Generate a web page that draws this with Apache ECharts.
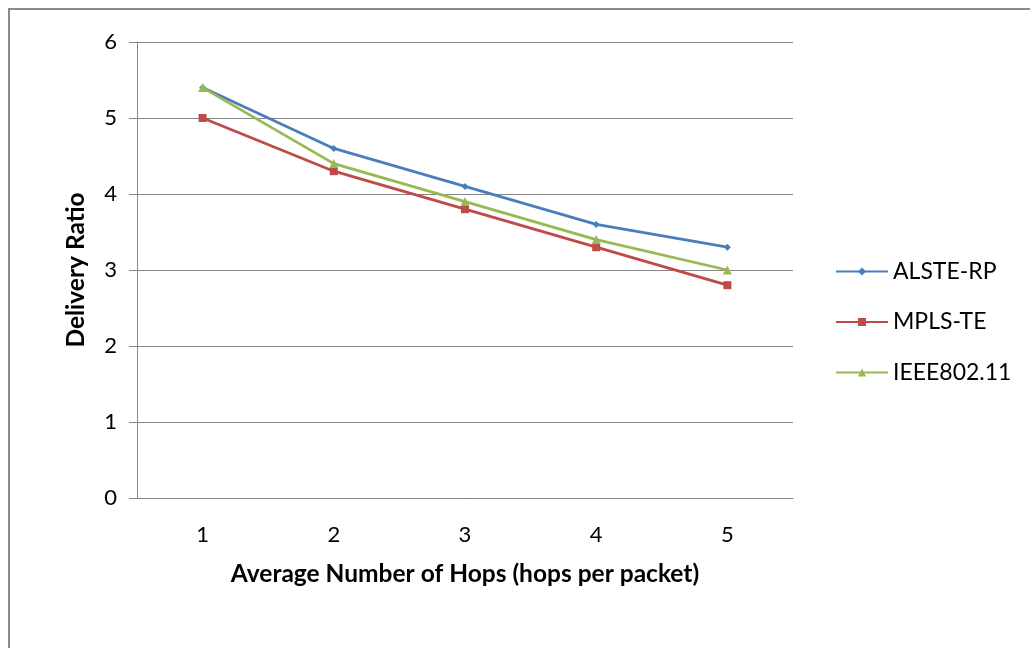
<!DOCTYPE html>
<html>
<head>
<meta charset="utf-8">
<script src="https://cdn.jsdelivr.net/npm/echarts@6/dist/echarts.min.js"></script>
<style>
html,body{margin:0;padding:0;background:#fff;}
#chart{width:1030px;height:648px;}
</style>
</head>
<body>
<div id="chart"></div>
<script>
const categories = ['1', '2', '3', '4', '5'];
const alsteRP = [5.4, 4.6, 4.1, 3.6, 3.3];
const mplsTE = [5.0, 4.3, 3.8, 3.3, 2.8];
const ieee80211 = [5.4, 4.4, 3.9, 3.4, 3.0];
const seriesNames = ['ALSTE-RP', 'MPLS-TE', 'IEEE802.11'];
const xAxisTitle = 'Average Number of Hops (hops per packet)';
const yAxisTitle = 'Delivery Ratio';

const FONT = 'Lato';
const chart = echarts.init(document.getElementById('chart'));
chart.setOption({
  animation: false,
  backgroundColor: '#fff',
  textStyle: { fontFamily: FONT },
  graphic: [
    { type: 'polyline', shape: { points: [[9, 648], [9, 9], [1030, 9]] },
      style: { stroke: '#8a8a8a', lineWidth: 2, fill: null } }
  ],
  grid: { left: 137, top: 42, width: 656, height: 456 },
  legend: {
    orient: 'vertical',
    left: 835,
    top: 260,
    padding: 0,
    itemWidth: 52,
    itemHeight: 10,
    itemGap: 27.5,
    textStyle: { fontSize: 23, color: '#000', fontFamily: FONT, padding: [0, 0, 0, 0] },
    data: seriesNames
  },
  xAxis: {
    type: 'category',
    data: categories,
    boundaryGap: true,
    name: xAxisTitle,
    nameLocation: 'middle',
    nameGap: 64,
    nameTextStyle: { fontSize: 24.5, fontWeight: 'bold', color: '#000', fontFamily: FONT },
    axisLine: { lineStyle: { color: '#868686', width: 1 } },
    axisTick: { show: false },
    axisLabel: { fontSize: 22, color: '#000', margin: 26, fontFamily: FONT }
  },
  yAxis: {
    type: 'value',
    min: 0, max: 6, interval: 1,
    name: yAxisTitle,
    nameLocation: 'middle',
    nameRotate: 90,
    nameGap: 48,
    nameTextStyle: { fontSize: 24.5, fontWeight: 'bold', color: '#000', fontFamily: FONT },
    axisLine: { show: true, lineStyle: { color: '#868686', width: 1 } },
    axisTick: { show: true, length: 8, lineStyle: { color: '#868686' } },
    splitLine: { lineStyle: { color: '#868686', width: 1 } },
    axisLabel: { fontSize: 22, color: '#000', margin: 20, fontFamily: FONT }
  },
  series: [
    { name: seriesNames[0], type: 'line', data: alsteRP, color: '#4A7EBB',
      symbol: 'diamond', symbolSize: 7, lineStyle: { width: 2.8 } },
    { name: seriesNames[1], type: 'line', data: mplsTE, color: '#BE4B48',
      symbol: 'rect', symbolSize: 8, lineStyle: { width: 2.8 } },
    { name: seriesNames[2], type: 'line', data: ieee80211, color: '#98B954',
      symbol: 'triangle', symbolSize: 9, lineStyle: { width: 2.8 } }
  ]
});
</script>
</body>
</html>
